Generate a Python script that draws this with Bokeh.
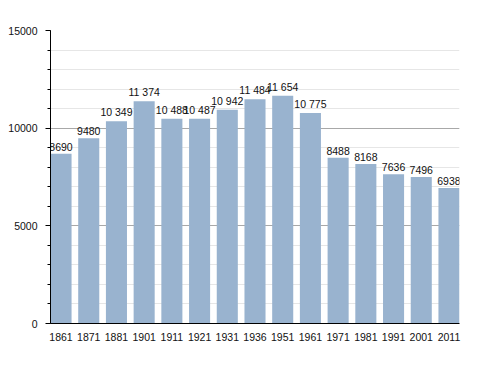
from bokeh.plotting import figure
from bokeh.models import Range1d, FixedTicker, SingleIntervalTicker, ColumnDataSource, LabelSet
from bokeh.core.properties import value
from bokeh.embed import file_html
from bokeh.resources import INLINE

years = ["1861", "1871", "1881", "1901", "1911", "1921", "1931", "1936",
         "1951", "1961", "1971", "1981", "1991", "2001", "2011"]
population = [8690, 9480, 10349, 11374, 10488, 10487, 10942, 11484,
              11654, 10775, 8488, 8168, 7636, 7496, 6938]
y_ticks = [0, 5000, 10000, 15000]

FONT = "Arial"


def fmt(v):
    s = str(v)
    if v >= 10000:
        s = s[:-3] + " " + s[-3:]
    return s


xs = list(range(len(years)))
src = ColumnDataSource(dict(x=xs, top=population, label=[fmt(v) for v in population]))

p = figure(width=480, height=365, output_backend="svg", toolbar_location=None,
           x_range=Range1d(-0.38, len(years) - 1 + 0.38), y_range=Range1d(0, 15000),
           min_border_left=50, min_border_right=21, min_border_top=30, min_border_bottom=42)
p.outline_line_color = None
p.background_fill_color = "white"

p.vbar(x="x", top="top", width=0.76, source=src, fill_color="#99b3cf", line_color=None)

labels = LabelSet(x="x", y="top", text="label", source=src, text_align="center",
                  text_baseline="bottom", y_offset=3, text_font=value(FONT),
                  text_font_size=value("10.5px"), text_color="#111111")
p.add_layout(labels)

# x axis
p.xaxis.ticker = FixedTicker(ticks=xs)
p.xaxis.major_label_overrides = {i: y for i, y in zip(xs, years)}
p.xaxis.major_tick_line_color = None
p.xaxis.minor_tick_line_color = None
p.xaxis.axis_line_color = "black"
p.xaxis.major_label_standoff = 3
p.xaxis.major_label_text_font = FONT
p.xaxis.major_label_text_font_size = "10.5px"
p.xaxis.major_label_text_color = "#111111"

# y axis
p.yaxis.ticker = SingleIntervalTicker(interval=5000, num_minor_ticks=5)
p.yaxis.axis_line_color = "black"
p.yaxis.major_tick_in = 0
p.yaxis.major_tick_out = 5
p.yaxis.minor_tick_in = 0
p.yaxis.minor_tick_out = 3
p.yaxis.major_tick_line_color = "black"
p.yaxis.minor_tick_line_color = "black"
p.yaxis.major_label_standoff = 8
p.yaxis.major_label_text_font = FONT
p.yaxis.major_label_text_font_size = "10.5px"
p.yaxis.major_label_text_color = "#111111"

p.xgrid.grid_line_color = None
p.ygrid.grid_line_color = "#a8a8a8"
p.ygrid.minor_grid_line_color = "#e6e6e6"
p.ygrid.level = "underlay"

open("out.html", "w").write(file_html(p, INLINE))
